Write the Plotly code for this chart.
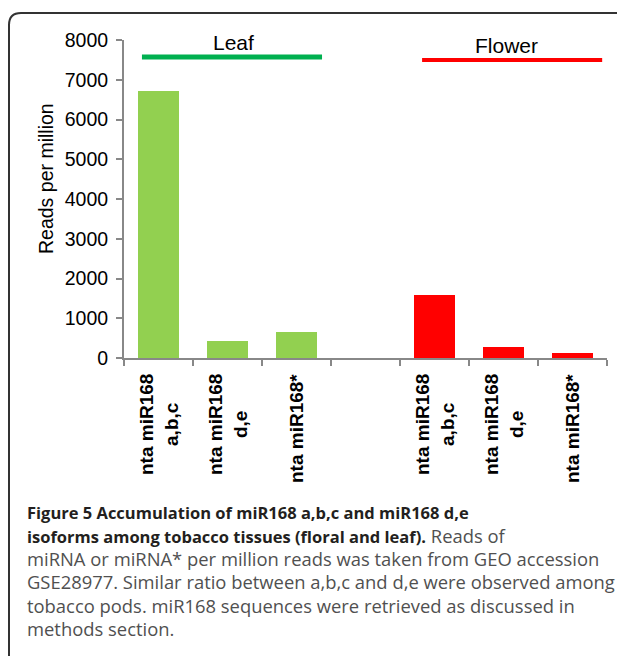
import plotly.graph_objects as go

# ---- data ----
leaf_labels = ["nta miR168<br>a,b,c", "nta miR168<br>d,e", "nta miR168*"]
leaf_values = [6710, 420, 650]
flower_labels = ["nta miR168<br>a,b,c", "nta miR168<br>d,e", "nta miR168*"]
flower_values = [1580, 270, 125]
group_names = ["Leaf", "Flower"]
y_ticks = [0, 1000, 2000, 3000, 4000, 5000, 6000, 7000, 8000]

caption_bold = [
    "Figure 5 Accumulation of miR168 a,b,c and miR168 d,e",
    "isoforms among tobacco tissues (floral and leaf).",
    "", "", "", "",
]
caption_plain = [
    "",
    " Reads of",
    "miRNA or miRNA* per million reads was taken from GEO accession",
    "GSE28977. Similar ratio between a,b,c and d,e were observed among",
    "tobacco pods. miR168 sequences were retrieved as discussed in",
    "methods section.",
]

# ---- layout geometry (pixels, in window coordinates) ----
OFF = 8                      # default page body margin
WIN_W, WIN_H = 625, 656
W, H = WIN_W - OFF, WIN_H - OFF
L, R, T, B = 124, 607, 40, 358   # plot area in window pixels


def px(x, y):
    return (x - L) / (R - L), (B - y) / (B - T)


leaf_x = list(range(len(leaf_values)))
flower_x = [len(leaf_values) + 1 + i for i in range(len(flower_values))]
n_slots = len(leaf_values) + 1 + len(flower_values)

fig = go.Figure()
fig.add_trace(go.Bar(x=leaf_x, y=leaf_values, marker_color="#92d050",
                     width=0.6, name=group_names[0], marker_line_width=0))
fig.add_trace(go.Bar(x=flower_x, y=flower_values, marker_color="#ff0000",
                     width=0.6, name=group_names[1], marker_line_width=0))

SANS = "Liberation Sans, Arial"
annotations = []
label_font = dict(family=SANS, size=19, color="#000000")
for xs, labels in ((leaf_x, leaf_labels), (flower_x, flower_labels)):
    for x, lab in zip(xs, labels):
        annotations.append(dict(
            x=x, y=0, xref="x", yref="paper", text="<b>" + lab + "</b>",
            textangle=-90, xanchor="center", yanchor="top", yshift=-14,
            showarrow=False, align="center", font=label_font))

# group headers
annotations.append(dict(x=1.08, y=7930, xref="x", yref="y", text=group_names[0],
                        showarrow=False, font=dict(family=SANS, size=21, color="#000")))
annotations.append(dict(x=5.05, y=7850, xref="x", yref="y", text=group_names[1],
                        showarrow=False, font=dict(family=SANS, size=21, color="#000")))

# y title
tx, ty = px(46, 179)
annotations.append(dict(x=tx, y=ty, xref="paper", yref="paper", text="Reads per million",
                        textangle=-90, showarrow=False, xanchor="center", yanchor="middle",
                        font=dict(family=SANS, size=19.5, color="#000")))

# caption
line_y0, line_dy = 512, 23.3
for i, (bt, pt) in enumerate(zip(caption_bold, caption_plain)):
    parts = ""
    if bt:
        parts += f"<b><span style='font-size:16.5px;color:#231f20'>{bt}</span></b>"
    if pt:
        parts += f"<span style='font-size:18.4px'>{pt}</span>"
    cx, cy = px(25, line_y0 + i * line_dy)
    annotations.append(dict(x=cx, y=cy, xref="paper", yref="paper", text=parts,
                            showarrow=False, xanchor="left", yanchor="middle", align="left",
                            font=dict(family="Open Sans", size=18.4, color="#505050")))

shapes = []
# group lines
shapes.append(dict(type="line", xref="x", yref="y", x0=-0.24, x1=2.37, y0=7570, y1=7570,
                   line=dict(color="#00b050", width=5)))
shapes.append(dict(type="line", xref="x", yref="y", x0=3.82, x1=6.43, y0=7495, y1=7495,
                   line=dict(color="#ff0000", width=4)))

# outer rounded border
r = 12
p1 = px(9, 700); p2 = px(9, 13 + r); pc = px(9, 13); p3 = px(9 + r, 13); p4 = px(700, 13)
path = (f"M {p1[0]},{p1[1]} L {p2[0]},{p2[1]} Q {pc[0]},{pc[1]} {p3[0]},{p3[1]} "
        f"L {p4[0]},{p4[1]}")
shapes.append(dict(type="path", xref="paper", yref="paper", path=path,
                   line=dict(color="#333333", width=2)))

fig.update_layout(
    width=W, height=H,
    margin=dict(l=L - OFF, r=WIN_W - R, t=T - OFF, b=WIN_H - B, pad=0),
    paper_bgcolor="white", plot_bgcolor="white",
    showlegend=False, bargap=0,
    annotations=annotations, shapes=shapes,
    xaxis=dict(range=[-0.5, n_slots - 0.5], tickmode="array",
               tickvals=[i - 0.5 for i in range(n_slots + 1)],
               showticklabels=False, ticks="outside", ticklen=6, tickwidth=2,
               tickcolor="#888888", showline=True, linecolor="#888888", linewidth=2,
               showgrid=False, zeroline=False, fixedrange=True),
    yaxis=dict(range=[0, 8000], tickmode="array", tickvals=y_ticks,
               ticks="outside", ticklen=6, tickwidth=2, tickcolor="#888888",
               showline=True, linecolor="#888888", linewidth=2, showgrid=False,
               zeroline=False, tickfont=dict(family=SANS, size=19.5, color="#000"),
               ticklabelstandoff=4, fixedrange=True),
)

fig.write_html("out.html")
